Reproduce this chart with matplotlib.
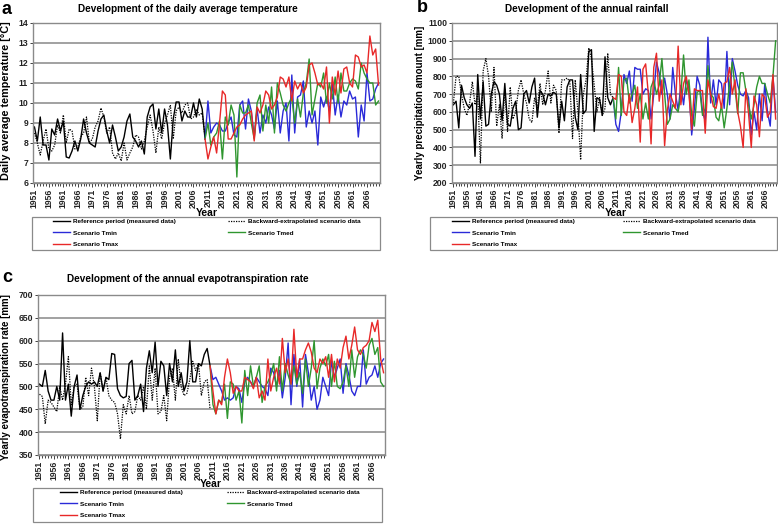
import numpy as np
import matplotlib
matplotlib.use("Agg")
import matplotlib.pyplot as plt
from matplotlib.patches import Rectangle
from matplotlib.lines import Line2D

plt.rcParams['font.family'] = ['Liberation Sans', 'DejaVu Sans']
plt.rcParams['font.weight'] = 'bold'

years_ref = np.arange(1951, 2011)
years_scen = np.arange(2010, 2071)
tick_years = np.arange(1951, 2067, 5)

# --- a: daily average temperature [°C]
temp_ref = [8.8, 8.1, 9.3, 7.9, 7.9, 7.15, 8.7, 8.4, 9.2, 8.6,
            9.1, 7.3, 7.25, 7.6, 8.1, 7.6, 8.2, 9.2, 8.5, 8.0,
            7.9, 7.8, 8.6, 9.2, 9.4, 8.6, 8.0, 8.9, 8.3, 7.6,
            7.8, 8.3, 9.1, 9.45, 8.3, 8.1, 7.8, 8.1, 7.45, 9.3,
            9.8, 9.95, 8.7, 9.7, 8.5, 9.7, 8.9, 7.2, 9.2, 10.05,
            10.05, 9.1, 9.6, 9.3, 9.3, 10.0, 9.3, 10.2, 9.7, 8.2]
temp_back = [8.5, 8.0, 7.4, 8.1, 8.7, 7.7, 7.6, 7.9, 8.9, 8.5,
             9.4, 8.0, 8.7, 8.6, 7.7, 7.8, 8.3, 8.5, 9.3, 8.0,
             8.2, 8.8, 9.1, 9.75, 9.3, 8.5, 8.8, 7.5, 7.2, 7.5,
             7.1, 8.0, 7.15, 7.5, 7.8, 8.4, 8.3, 7.7, 8.1, 8.8,
             9.4, 8.6, 7.5, 8.8, 8.2, 9.0, 9.4, 9.9, 8.2, 9.6,
             9.8, 9.5, 9.9, 10.0, 9.2, 9.3, 9.7, 9.4, 9.5, 8.3]
temp_tmin = [8.2, 10.1, 8.5, 8.8, 9.0, 8.9, 8.6, 8.6, 9.0, 9.3,
             8.4, 8.3, 9.9, 10.1, 8.7, 10.2, 9.6, 8.3, 9.7, 8.5,
             9.4, 9.0, 9.8, 9.4, 8.7, 10.1, 8.5, 9.6, 10.0, 8.1,
             11.4, 8.5, 10.3, 10.4, 11.1, 8.8, 9.6, 9.0, 9.6, 7.9,
             10.3, 9.8, 10.3, 9.6, 11.0, 9.4, 10.4, 9.3, 10.1, 9.9,
             10.6, 10.2, 10.3, 8.3, 9.9, 9.1, 11.5, 10.1, 10.2, 10.7,
             11.0]
temp_tmed = [8.2, 9.0, 7.9, 8.3, 8.5, 9.1, 7.2, 9.3, 8.9, 9.9,
             9.4, 6.3, 9.9, 9.5, 9.5, 9.9, 9.0, 8.2, 10.0, 10.4,
             8.6, 9.9, 9.0, 10.8, 8.5, 11.0, 10.5, 9.9, 9.6, 10.0,
             10.3, 9.0, 10.2, 9.3, 10.5, 11.0, 12.2, 9.4, 10.2, 11.0,
             10.8, 11.5, 10.0, 11.0, 10.2, 11.3, 10.0, 11.5, 10.6, 10.6,
             11.0, 11.2, 11.1, 10.7, 12.0, 11.5, 11.2, 11.0, 11.0, 9.9,
             10.1]
temp_tmax = [8.2, 7.2, 7.8, 8.3, 7.5, 9.0, 10.6, 10.4, 8.2, 8.2,
             8.5, 8.8, 8.9, 9.2, 9.4, 9.5, 9.6, 8.1, 9.8, 9.5,
             9.9, 10.6, 10.4, 9.7, 9.9, 10.3, 11.3, 11.2, 10.8, 11.3,
             10.1, 11.1, 10.7, 11.0, 10.5, 10.8, 11.9, 12.0, 11.5, 10.9,
             11.0, 10.7, 11.8, 9.0, 11.3, 10.4, 11.6, 10.5, 11.7, 11.8,
             11.0, 10.8, 12.4, 12.3, 11.8, 11.9, 11.5, 13.35, 12.4, 12.7,
             10.9]

# --- b: annual rainfall [mm]
rain_ref = [640, 660, 510, 750, 680, 640, 620, 650, 350, 810,
            560, 770, 520, 530, 700, 770, 750, 700, 550, 760,
            530, 520, 620, 660, 500, 510, 700, 720, 650, 740,
            790, 570, 720, 700, 640, 700, 690, 710, 700, 510,
            660, 550, 740, 780, 780, 570, 500, 810, 590, 610,
            940, 950, 490, 680, 670, 580, 910, 680, 640, 680]
rain_back = [650, 800, 800, 700, 620, 580, 650, 770, 640, 700,
             310, 830, 900, 800, 600, 850, 520, 640, 450, 730,
             490, 740, 560, 600, 720, 780, 700, 650, 560, 540,
             680, 620, 760, 640, 720, 830, 650, 750, 720, 480,
             780, 780, 790, 770, 450, 780, 600, 330, 700, 780,
             960, 900, 750, 600, 680, 580, 620, 930, 700, 680]
rain_tmin = [680, 530, 490, 600, 810, 760, 830, 660, 850, 840,
             840, 700, 730, 720, 560, 700, 880, 820, 700, 790,
             700, 560, 850, 700, 610, 750, 640, 780, 730, 470,
             620, 800, 750, 600, 550, 1020, 650, 780, 640, 780,
             760, 620, 940, 640, 900, 830, 750, 700, 690, 720,
             680, 470, 600, 500, 700, 550, 760, 600, 520, 800,
             600]
rain_tmed = [680, 560, 850, 580, 780, 790, 650, 700, 750, 620,
             700, 560, 650, 560, 740, 780, 700, 750, 900, 700,
             530, 560, 640, 620, 600, 700, 920, 700, 780, 580,
             520, 710, 720, 580, 620, 860, 700, 680, 570, 550,
             640, 510, 620, 760, 880, 730, 590, 820, 820, 720,
             640, 560, 640, 740, 800, 760, 760, 700, 650, 800,
             1000]
rain_tmax = [680, 670, 810, 800, 600, 580, 700, 540, 620, 740,
             430, 840, 870, 700, 420, 850, 930, 660, 780, 410,
             610, 700, 660, 620, 970, 640, 760, 800, 700, 500,
             730, 720, 720, 720, 480, 780, 700, 630, 620, 700,
             620, 760, 770, 850, 700, 780, 600, 520, 400, 730,
             590, 400, 690, 640, 460, 700, 680, 570, 600, 810,
             560]

# --- c: annual evapotranspiration rate [mm]
evap_ref = [505, 500, 535, 490, 470, 470, 500, 470, 617, 470,
            505, 435, 500, 525, 450, 480, 500, 510, 505, 510,
            500, 530, 490, 520, 515, 572, 570, 495, 480, 475,
            478, 550, 557, 470, 480, 505, 445, 540, 578, 530,
            597, 500, 555, 545, 480, 550, 510, 580, 500, 530,
            490, 510, 600, 510, 510, 550, 545, 570, 583, 545]
evap_back = [483, 478, 418, 470, 465, 455, 445, 500, 470, 505,
             565, 460, 500, 505, 450, 455, 520, 480, 540, 500,
             425, 530, 490, 520, 480, 470, 465, 440, 385, 460,
             440, 480, 440, 445, 480, 470, 500, 450, 545, 470,
             540, 440, 445, 480, 425, 520, 540, 470, 560, 500,
             480, 485, 515, 555, 535, 550, 480, 510, 515, 450]
evap_tmin = [545, 515, 520, 505, 490, 470, 475, 470, 475, 500,
             495, 465, 510, 520, 510, 500, 520, 510, 500, 495,
             480, 540, 530, 500, 535, 475, 520, 595, 460, 570,
             500, 560, 455, 570, 530, 470, 500, 450, 470, 520,
             500, 480, 555, 520, 540, 560, 485, 550, 525, 490,
             480, 500, 500, 580, 505, 520, 525, 545, 520, 550,
             560]
evap_tmed = [545, 460, 440, 470, 465, 505, 430, 510, 505, 470,
             490, 420, 535, 480, 545, 500, 520, 545, 465, 500,
             510, 525, 550, 490, 565, 490, 550, 525, 505, 545,
             505, 530, 485, 560, 500, 540, 600, 495, 540, 560,
             545, 570, 500, 555, 500, 495, 510, 545, 500, 580,
             520, 565, 580, 570, 540, 590, 605, 570, 585, 510,
             500]
evap_tmax = [545, 490, 440, 470, 460, 520, 560, 530, 485, 500,
             490, 490, 520, 515, 510, 495, 520, 475, 490, 470,
             560, 490, 520, 540, 505, 605, 530, 560, 505, 625,
             520, 560, 560, 580, 595, 575, 540, 530, 560, 550,
             565, 520, 570, 510, 560, 540, 585, 610, 560, 590,
             630, 580, 570, 585, 590, 600, 640, 620, 645, 560,
             530]

W, H = 778, 524
fig = plt.figure(figsize=(W / 100, H / 100), dpi=100)


def rect(x0, y0, x1, y1):
    return [x0 / W, 1 - y1 / H, (x1 - x0) / W, (y1 - y0) / H]


c_blue, c_green, c_red = '#2a2ad8', '#2f962f', '#e82828'


def panel(box, ref, back, tmin, tmed, tmax, ylim, ystep, ylabel, title,
          letter, title_xy, letter_xy, ylab_xy, year_xy, leg, ylab_size=7):
    ax = fig.add_axes(rect(*box))
    ax.plot(years_ref, ref, color='black', lw=1.0)
    ax.plot(years_ref, back, color='black', lw=0.9, ls=(0, (1, 1)))
    ax.plot(years_scen, tmin, color=c_blue, lw=1.0)
    ax.plot(years_scen, tmed, color=c_green, lw=1.0)
    ax.plot(years_scen, tmax, color=c_red, lw=1.0)
    ax.set_xlim(1950.5, 2070.5)
    ax.set_ylim(*ylim)
    ax.set_yticks(np.arange(ylim[0], ylim[1] + ystep / 2, ystep))
    ax.set_xticks(tick_years)
    ax.set_xticks(np.arange(1951, 2071), minor=True)
    ax.set_xticklabels([str(y) for y in tick_years], rotation=90)
    ax.yaxis.grid(True, color='#9a9a9a', lw=1.3)
    ax.set_axisbelow(True)
    for s in ax.spines.values():
        s.set_color('#8a8a8a')
        s.set_linewidth(1.0)
    ax.tick_params(axis='both', labelsize=6.2, colors='#222222', width=0.6)
    ax.tick_params(axis='x', which='major', length=3, pad=1)
    ax.tick_params(axis='x', which='minor', length=2, width=0.6, color='#222222')
    ax.tick_params(axis='y', length=2, pad=1.5)

    fig.text(title_xy[0] / W, 1 - title_xy[1] / H, title, ha='center',
             va='center', fontsize=7.2, fontweight='bold')
    fig.text(letter_xy[0] / W, 1 - letter_xy[1] / H, letter, ha='center',
             va='center', fontsize=13, fontweight='bold')
    fig.text(ylab_xy[0] / W, 1 - ylab_xy[1] / H, ylabel, ha='center',
             va='center', rotation=90, fontsize=ylab_size, fontweight='bold')
    fig.text(year_xy[0] / W, 1 - year_xy[1] / H, 'Year', ha='center',
             va='center', fontsize=7.5, fontweight='bold')

    # legend frame and two columns of entries
    lx0, ly0, lx1, ly1, c1, c2 = leg
    fig.add_artist(Rectangle((lx0 / W, 1 - ly1 / H), (lx1 - lx0) / W,
                             (ly1 - ly0) / H, transform=fig.transFigure,
                             fill=False, edgecolor='#8a8a8a', lw=0.9))
    kw = dict(loc='upper left', frameon=False, borderpad=0, borderaxespad=0,
              handlelength=2.7, handletextpad=0.5, labelspacing=0.9,
              prop={'weight': 'bold', 'size': 4.6})
    h_ref = Line2D([], [], color='black', lw=1.0)
    h_back = Line2D([], [], color='black', lw=0.9, ls=(0, (1, 1)))
    h_min = Line2D([], [], color=c_blue, lw=1.0)
    h_med = Line2D([], [], color=c_green, lw=1.0)
    h_max = Line2D([], [], color=c_red, lw=1.0)
    fig.legend([h_ref, h_min, h_max],
               ['Reference period (measured data)', 'Scenario Tmin', 'Scenario Tmax'],
               bbox_to_anchor=(c1 / W, 1 - (ly0 + 2) / H), **kw)
    fig.legend([h_back, h_med],
               ['Backward-extrapolated scenario data', 'Scenario Tmed'],
               bbox_to_anchor=(c2 / W, 1 - (ly0 + 2) / H), **kw)
    return ax


panel((33, 23, 380, 183), temp_ref, temp_back, temp_tmin, temp_tmed, temp_tmax,
      (6, 14), 1, 'Daily average temperature [°C]',
      'Development of the daily average temperature', 'a',
      (188, 9), (7, 9), (6, 101), (207, 213),
      (32, 217, 380, 250, 53, 228), ylab_size=7.8)

panel((452, 23, 777, 183), rain_ref, rain_back, rain_tmin, rain_tmed, rain_tmax,
      (200, 1100), 100, 'Yearly precipitation amount [mm]',
      'Development of the annual rainfall', 'b',
      (587, 9), (422, 8), (420, 103), (616, 213),
      (430, 217, 777, 250, 452, 623))

panel((38, 295, 385, 455), evap_ref, evap_back, evap_tmin, evap_tmed, evap_tmax,
      (350, 700), 50, 'Yearly evapotranspiration rate [mm]',
      'Development of the annual evapotranspiration rate', 'c',
      (188, 279), (7, 278), (6, 377), (211, 484),
      (33, 488, 382, 522, 60, 227))

fig.savefig('out.png', dpi=100)
